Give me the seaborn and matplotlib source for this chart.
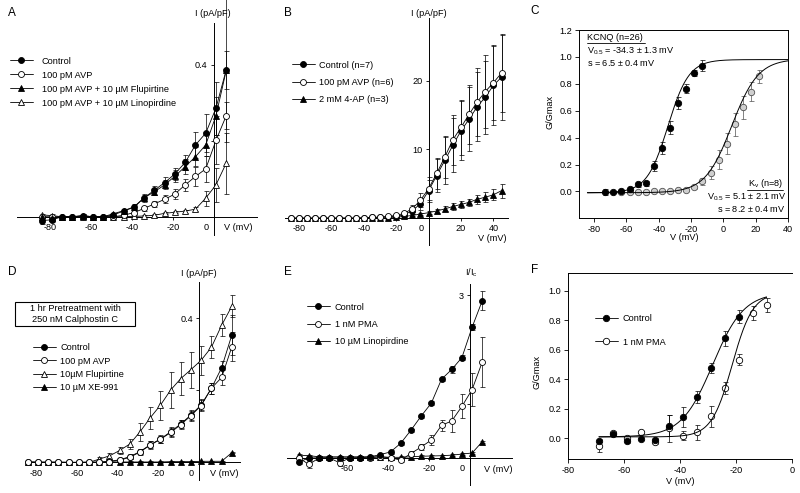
import numpy as np
import pandas as pd
import matplotlib
matplotlib.use("Agg")
import matplotlib.pyplot as plt
from matplotlib.lines import Line2D
from matplotlib.patches import Rectangle
import seaborn as sns

# ---------------- data ----------------
# Panel A  (I, pA/pF)
a_v = [-84, -79, -74, -69, -64, -59, -54, -49, -44, -39, -34, -29, -24, -19, -14, -9, -4, 1, 6]
a_ctl = [-0.01, -0.008, 0.0, 0.0, 0.003, 0.0, 0.0, 0.005, 0.015, 0.025, 0.05, 0.07, 0.09, 0.113, 0.143, 0.189, 0.22, 0.286, 0.387]
a_ctl_e = [0.008, 0.006, 0.003, 0.003, 0.004, 0.003, 0.003, 0.004, 0.006, 0.008, 0.01, 0.012, 0.015, 0.015, 0.02, 0.035, 0.05, 0.07, 0.19]
a_avp = [0.0, 0.0, 0.0, 0.0, 0.0, 0.0, 0.0, 0.0, 0.004, 0.011, 0.022, 0.034, 0.046, 0.06, 0.084, 0.106, 0.126, 0.201, 0.266]
a_avp_e = [0.003, 0.003, 0.003, 0.003, 0.003, 0.003, 0.003, 0.003, 0.004, 0.005, 0.006, 0.008, 0.01, 0.012, 0.015, 0.025, 0.035, 0.063, 0.035]
a_flu = [0.0, -0.003, 0.0, 0.0, 0.003, 0.0, 0.0, 0.008, 0.016, 0.026, 0.05, 0.066, 0.084, 0.107, 0.132, 0.158, 0.189, 0.266, 0.385]
a_flu_e = [0.003, 0.003, 0.003, 0.003, 0.003, 0.003, 0.003, 0.003, 0.005, 0.006, 0.008, 0.01, 0.012, 0.015, 0.02, 0.025, 0.03, 0.05, 0.05]
a_lin = [0.005, 0.003, 0.0, 0.0, 0.0, 0.0, 0.0, 0.0, 0.0, 0.001, 0.002, 0.004, 0.009, 0.012, 0.015, 0.02, 0.049, 0.084, 0.141]
a_lin_e = [0.003, 0.003, 0.003, 0.003, 0.003, 0.003, 0.003, 0.003, 0.003, 0.003, 0.003, 0.003, 0.003, 0.003, 0.004, 0.006, 0.02, 0.044, 0.08]
a_labels = ["Control", "100 pM AVP", "100 pM AVP + 10 \u00b5M Flupirtine", "100 pM AVP + 10 \u00b5M Linopirdine"]

# Panel B  (I, pA/pF)
b_v = [-85, -80, -75, -70, -65, -60, -55, -50, -45, -40, -35, -30, -25, -20, -15, -10, -5, 0, 5, 10, 15, 20, 25, 30, 35, 40, 45]
b_ctl = [0.0, 0.0, 0.0, 0.0, 0.0, 0.0, 0.0, 0.0, 0.0, 0.05, 0.1, 0.15, 0.2, 0.3, 0.5, 1.1, 2.1, 4.0, 6.2, 8.4, 10.6, 12.7, 14.4, 16.2, 17.6, 19.3, 20.5]
b_ctl_e = [0.1, 0.1, 0.1, 0.1, 0.1, 0.1, 0.1, 0.1, 0.1, 0.1, 0.1, 0.1, 0.15, 0.2, 0.3, 0.5, 0.9, 1.6, 2.4, 3.4, 3.9, 4.3, 4.6, 5.0, 5.3, 5.7, 6.3]
b_avp = [0.0, 0.0, 0.0, 0.0, 0.0, 0.0, 0.0, 0.0, 0.0, 0.05, 0.1, 0.15, 0.25, 0.4, 0.7, 1.4, 2.6, 4.3, 6.5, 8.9, 11.4, 13.2, 15.1, 16.9, 18.4, 19.7, 21.1]
b_avp_e = [0.1, 0.1, 0.1, 0.1, 0.1, 0.1, 0.1, 0.1, 0.1, 0.1, 0.1, 0.1, 0.15, 0.2, 0.3, 0.5, 1.0, 1.7, 2.2, 3.0, 3.6, 4.0, 4.3, 4.9, 5.3, 5.5, 5.6]
b_4ap = [0.0, 0.0, 0.0, 0.0, 0.0, 0.0, 0.0, 0.0, 0.0, 0.0, 0.02, 0.04, 0.08, 0.15, 0.25, 0.4, 0.6, 0.8, 1.05, 1.35, 1.7, 2.0, 2.3, 2.75, 3.05, 3.4, 4.0]
b_4ap_e = [0.05, 0.05, 0.05, 0.05, 0.05, 0.05, 0.05, 0.05, 0.05, 0.05, 0.05, 0.05, 0.05, 0.1, 0.1, 0.15, 0.2, 0.25, 0.3, 0.35, 0.45, 0.5, 0.55, 0.65, 0.7, 0.8, 1.0]
b_labels = ["Control (n=7)", "100 pM AVP (n=6)", "2 mM 4-AP (n=3)"]

# Panel C  (G/Gmax)
c_kcnq_v = [-73, -68, -63, -58, -53, -48, -43, -38, -33, -28, -23, -18, -13]
c_kcnq_g = [-0.005, -0.005, 0.0, 0.02, 0.052, 0.06, 0.19, 0.32, 0.475, 0.66, 0.765, 0.88, 0.935]
c_kcnq_e = [0.025, 0.01, 0.01, 0.012, 0.02, 0.02, 0.035, 0.045, 0.045, 0.045, 0.03, 0.02, 0.04]
c_kv_v = [-63, -58, -53, -48, -43, -38, -33, -28, -23, -18, -13, -8, -3, 2, 7, 12, 17, 22]
c_kv_g = [-0.005, -0.005, -0.005, -0.003, 0.0, 0.0, 0.003, 0.008, 0.012, 0.03, 0.075, 0.14, 0.235, 0.355, 0.5, 0.625, 0.74, 0.855]
c_kv_e = [0.005, 0.005, 0.005, 0.005, 0.005, 0.005, 0.005, 0.005, 0.005, 0.01, 0.025, 0.05, 0.07, 0.08, 0.085, 0.085, 0.07, 0.05]
# Boltzmann fit parameters [bottom, top, V0.5, s]
c_kcnq_fit = [-0.01, 0.98, -34.3, 6.5]
c_kv_fit = [-0.01, 0.985, 5.1, 8.2]

# Panel D  (I, pA/pF)
d_v = [-84, -79, -74, -69, -64, -59, -54, -49, -44, -39, -34, -29, -24, -19, -14, -9, -4, 1, 6, 11, 16]
d_ctl = [0.0, 0.0, 0.0, 0.0, 0.0, 0.0, 0.0, 0.0, 0.003, 0.007, 0.016, 0.030, 0.049, 0.065, 0.085, 0.107, 0.132, 0.160, 0.206, 0.263, 0.354]
d_ctl_e = [0.003, 0.003, 0.003, 0.003, 0.003, 0.003, 0.003, 0.003, 0.004, 0.005, 0.006, 0.008, 0.01, 0.01, 0.012, 0.012, 0.014, 0.015, 0.015, 0.02, 0.055]
d_avp = [0.0, 0.0, 0.0, 0.0, 0.0, 0.0, 0.0, 0.0, 0.002, 0.006, 0.014, 0.029, 0.048, 0.064, 0.083, 0.105, 0.130, 0.158, 0.206, 0.236, 0.321]
d_avp_e = [0.003, 0.003, 0.003, 0.003, 0.003, 0.003, 0.003, 0.003, 0.004, 0.005, 0.006, 0.008, 0.01, 0.01, 0.012, 0.012, 0.014, 0.015, 0.015, 0.02, 0.04]
d_flu = [0.0, 0.0, 0.0, 0.0, 0.0, 0.0, 0.0, 0.009, 0.018, 0.033, 0.051, 0.085, 0.124, 0.159, 0.201, 0.233, 0.258, 0.284, 0.320, 0.381, 0.434]
d_flu_e = [0.003, 0.003, 0.003, 0.003, 0.003, 0.003, 0.003, 0.005, 0.008, 0.01, 0.015, 0.025, 0.03, 0.04, 0.05, 0.045, 0.05, 0.04, 0.03, 0.03, 0.03]
d_xe = [0.002, 0.001, 0.001, 0.001, 0.0, 0.0, 0.001, 0.001, 0.001, 0.001, 0.001, 0.001, 0.001, 0.001, 0.002, 0.002, 0.002, 0.003, 0.003, 0.003, 0.027]
d_xe_e = [0.002] * 21
d_labels = ["Control", "100 pM AVP", "10\u00b5M Flupirtine", "10 \u00b5M XE-991"]

# Panel E  (I/Ic)
e_v = [-84, -79, -74, -69, -64, -59, -54, -49, -44, -39, -34, -29, -24, -19, -14, -9, -4, 1, 6]
e_ctl = [-0.08, 0.0, 0.0, 0.0, 0.0, 0.0, 0.0, 0.02, 0.06, 0.11, 0.27, 0.51, 0.77, 1.01, 1.45, 1.63, 1.85, 2.41, 2.90]
e_ctl_e = [0.03, 0.03, 0.03, 0.03, 0.03, 0.03, 0.03, 0.03, 0.03, 0.03, 0.03, 0.03, 0.03, 0.03, 0.04, 0.06, 0.04, 0.05, 0.18]
e_pma = [0.0, -0.12, 0.0, 0.0, -0.09, 0.0, 0.0, 0.0, 0.02, 0.0, -0.04, 0.08, 0.20, 0.33, 0.60, 0.68, 0.95, 1.26, 1.77]
e_pma_e = [0.03, 0.07, 0.03, 0.03, 0.06, 0.03, 0.03, 0.03, 0.03, 0.03, 0.03, 0.04, 0.06, 0.09, 0.1, 0.2, 0.22, 0.31, 0.46]
e_lin = [0.05, 0.04, 0.02, 0.02, 0.02, 0.02, 0.02, 0.02, 0.02, 0.01, 0.01, 0.02, 0.03, 0.035, 0.04, 0.05, 0.07, 0.09, 0.30]
e_lin_e = [0.02] * 19
e_labels = ["Control", "1 nM PMA", "10 \u00b5M Linopirdine"]

# Panel F  (G/Gmax)
f_ctl_v = [-69, -64, -59, -54, -49, -44, -39, -34, -29, -24, -19]
f_ctl_g = [-0.016, 0.03, -0.018, -0.002, -0.012, 0.087, 0.145, 0.28, 0.478, 0.678, 0.826]
f_ctl_e = [0.012, 0.012, 0.015, 0.01, 0.012, 0.07, 0.065, 0.04, 0.035, 0.05, 0.045]
f_pma_v = [-69, -64, -59, -54, -49, -44, -39, -34, -29, -24, -19, -14, -9]
f_pma_g = [-0.05, 0.035, 0.0, 0.04, -0.022, 0.068, 0.018, 0.042, 0.15, 0.34, 0.535, 0.85, 0.905]
f_pma_e = [0.04, 0.015, 0.015, 0.01, 0.015, 0.09, 0.03, 0.05, 0.07, 0.04, 0.04, 0.05, 0.05]
f_ctl_fit = [0.01, 0.99, -28.3, 5.6]
f_pma_fit = [0.01, 0.99, -21.3, 3.7]
f_labels = ["Control", "1 nM PMA"]

# ---------------- style ----------------
sns.set_theme(style="ticks")
plt.rcParams['font.family'] = ['Liberation Sans', 'DejaVu Sans']
plt.rcParams['mathtext.fontset'] = 'custom'
plt.rcParams['mathtext.rm'] = 'Liberation Sans'
plt.rcParams['mathtext.it'] = 'Liberation Sans:italic'
plt.rcParams['axes.unicode_minus'] = False
for k in ['text.color', 'axes.edgecolor', 'xtick.color', 'ytick.color', 'axes.labelcolor']:
    plt.rcParams[k] = 'black'

W, H = 800, 493
FS = 6.6
LFS = 8.5
fig = plt.figure(figsize=(8, 4.93), dpi=100)
fig.patch.set_facecolor('white')


def px_axes(l, t, r, b):
    return fig.add_axes([l / W, 1 - b / H, (r - l) / W, (b - t) / H])


def ftxt(x, y, s, **kw):
    kw.setdefault('fontsize', FS)
    kw.setdefault('ha', 'center')
    kw.setdefault('va', 'center')
    fig.text(x / W, 1 - y / H, s, **kw)


def cross_axes(box, xlim, ylim, xticks, yticks, ylabels):
    ax = px_axes(*box)
    ax.set_xlim(xlim)
    ax.set_ylim(ylim)
    for s in ['top', 'right']:
        ax.spines[s].set_visible(False)
    ax.spines['left'].set_position(('data', 0))
    ax.spines['bottom'].set_position(('data', 0))
    for s in ['left', 'bottom']:
        ax.spines[s].set_linewidth(0.7)
        ax.spines[s].set_color('black')
    ax.set_xticks(xticks)
    ax.set_xticklabels(['' if t == 0 else f'{t:g}' for t in xticks])
    ax.set_yticks(yticks)
    ax.set_yticklabels(ylabels)
    ax.tick_params(direction='out', length=2.5, width=0.6, labelsize=FS, pad=2)
    ax.patch.set_visible(False)
    if 0 in xticks:
        ax.annotate('0', xy=(0, 0), xycoords='data', xytext=(-5.5, -4.5),
                    textcoords='offset points', ha='center', va='top', fontsize=FS)
    ax.grid(False)
    return ax


def box_axes(box, xlim, ylim, xticks, yticks, right=True):
    ax = px_axes(*box)
    ax.set_xlim(xlim)
    ax.set_ylim(ylim)
    for s in ax.spines:
        ax.spines[s].set_linewidth(0.7)
        ax.spines[s].set_color('black')
    ax.spines['right'].set_visible(right)
    ax.set_xticks(xticks)
    ax.set_xticklabels([f'{t:g}' for t in xticks])
    ax.set_yticks(yticks)
    ax.set_yticklabels([f'{t:.1f}' for t in yticks])
    ax.tick_params(direction='out', length=3, width=0.6, labelsize=FS, pad=2)
    ax.grid(False)
    return ax


def series(ax, x, y, e, marker, fill, ms=4.3, color='black', ecolor='black', line=True):
    ax.errorbar(x, y, yerr=e, fmt='none', ecolor=ecolor, elinewidth=0.5,
                capsize=1.8, capthick=0.5, zorder=2, clip_on=False)
    sns.lineplot(x=x, y=y, ax=ax, color=color, lw=0.6 if line else 0, marker=marker, markersize=ms,
                 markerfacecolor=fill, markeredgecolor=color, markeredgewidth=0.6,
                 zorder=3, clip_on=False, estimator=None, sort=False)


def handle(marker, fill, ms=4.3, color='black', ecolor='black'):
    return Line2D([0], [0], color=ecolor, lw=0.6, marker=marker, markersize=ms,
                  markerfacecolor=fill, markeredgecolor=color, markeredgewidth=0.6)


def legend(handles, labels, x, y, spacing, textpad):
    fig.legend(handles, labels, loc='upper left', bbox_to_anchor=(x / W, 1 - y / H),
               bbox_transform=fig.transFigure, frameon=False, fontsize=FS,
               handlelength=2.5, handletextpad=textpad, labelspacing=spacing,
               borderpad=0, borderaxespad=0, numpoints=1)


def boltz(v, p):
    v = np.asarray(v, dtype=float)
    return p[0] + (p[1] - p[0]) / (1 + np.exp((p[2] - v) / p[3]))


TRI = 4.8

# ---------------- Panel A ----------------
axA = cross_axes((17, 23, 257, 235), (-96, 21), (-0.048, 0.51),
                 [-80, -60, -40, -20, 0], [0.2, 0.4], ['', '0.4'])
series(axA, a_v, a_lin, a_lin_e, '^', 'white', TRI)
series(axA, a_v, a_avp, a_avp_e, 'o', 'white')
series(axA, a_v, a_flu, a_flu_e, '^', 'black', TRI)
series(axA, a_v, a_ctl, a_ctl_e, 'o', 'black')
legend([handle('o', 'black'), handle('o', 'white'), handle('^', 'black', TRI), handle('^', 'white', TRI)],
       a_labels, 10, 56.5, 0.55, 0.95)
ftxt(213, 14, 'I (pA/pF)')
ftxt(253, 227.5, 'V (mV)', ha='right')
ftxt(12, 13, 'A', fontsize=LFS)

# ---------------- Panel B ----------------
axB = cross_axes((285, 18, 508, 245), (-88.6, 49), (-3.9, 29.1),
                 [-80, -60, -40, -20, 0, 20, 40], [10, 20], ['10', '20'])
series(axB, b_v, b_4ap, b_4ap_e, '^', 'black', TRI)
series(axB, b_v, b_ctl, b_ctl_e, 'o', 'black')
series(axB, b_v, b_avp, b_avp_e, 'o', 'white')
legend([handle('o', 'black'), handle('o', 'white'), handle('^', 'black', TRI)],
       b_labels, 292, 60.5, 0.9, 0.4)
ftxt(428.5, 13, 'I (pA/pF)')
ftxt(507, 238, 'V (mV)', ha='right')
ftxt(288, 13, 'B', fontsize=LFS)

# ---------------- Panel C ----------------
axC = box_axes((579.3, 30, 788.3, 218.3), (-89, 40), (-0.2, 1.2),
               [-80, -60, -40, -20, 0, 20, 40], [0.0, 0.2, 0.4, 0.6, 0.8, 1.0, 1.2])
vfit = np.linspace(-84, 40, 300)
sns.lineplot(x=vfit, y=boltz(vfit, c_kcnq_fit), ax=axC, color='black', lw=0.7, zorder=4)
sns.lineplot(x=vfit, y=boltz(vfit, c_kv_fit), ax=axC, color='black', lw=0.7, zorder=4)
series(axC, c_kv_v, c_kv_g, c_kv_e, 'o', '#cfcfcf', 4.6, color='#505050', ecolor='#505050', line=False)
series(axC, c_kcnq_v, c_kcnq_g, c_kcnq_e, 'o', 'black', 4.6, line=False)
ftxt(587, 38, 'KCNQ (n=26)', ha='left')
fig.add_artist(Line2D([587 / W, 645 / W], [1 - 42.5 / H, 1 - 42.5 / H], color='black', lw=0.6))
ftxt(587, 51, r'V$_{\mathregular{0.5}}$ = -34.3 $\pm$ 1.3 mV', ha='left')
ftxt(587, 63.5, r's = 6.5 $\pm$ 0.4 mV', ha='left')
ftxt(783, 184, r'K$_{\mathregular{v}}$ (n=8)', ha='right')
fig.add_artist(Line2D([747 / W, 783 / W], [1 - 189.5 / H, 1 - 189.5 / H], color='black', lw=0.6))
ftxt(786, 197.5, r'V$_{\mathregular{0.5}}$ = 5.1 $\pm$ 2.1 mV', ha='right')
ftxt(786, 209.5, r's = 8.2 $\pm$ 0.4 mV', ha='right')
ftxt(550, 112, 'G/Gmax', rotation=90)
ftxt(683.8, 237.5, 'V (mV)')
ftxt(535, 11, 'C', fontsize=LFS)

# ---------------- Panel D ----------------
axD = cross_axes((25, 281.7, 240, 480), (-85.4, 20), (-0.049, 0.502),
                 [-80, -60, -40, -20, 0], [0.2, 0.4], ['', '0.4'])
series(axD, d_v, d_xe, d_xe_e, '^', 'black', TRI)
series(axD, d_v, d_flu, d_flu_e, '^', 'white', TRI)
series(axD, d_v, d_ctl, d_ctl_e, 'o', 'black')
series(axD, d_v, d_avp, d_avp_e, 'o', 'white')
legend([handle('o', 'black'), handle('o', 'white'), handle('^', 'white', TRI), handle('^', 'black', TRI)],
       d_labels, 33, 343.5, 0.45, 0.45)
fig.add_artist(Rectangle((15 / W, 1 - 326 / H), 120 / W, 23.7 / H, transform=fig.transFigure,
                         fill=False, lw=0.8, ec='black'))
ftxt(75, 308.5, '1 hr Pretreatment with')
ftxt(75, 320, '250 nM Calphostin C')
ftxt(199, 273.3, 'I (pA/pF)')
ftxt(238, 473, 'V (mV)', ha='right')
ftxt(12, 272, 'D', fontsize=LFS)

# ---------------- Panel E ----------------
axE = cross_axes((286.7, 284.3, 511.7, 485), (-89.9, 20.4), (-0.5, 3.2),
                 [-60, -40, -20, 0], [1, 2, 3], ['', '', '3'])
series(axE, e_v, e_lin, e_lin_e, '^', 'black', TRI)
series(axE, e_v, e_pma, e_pma_e, 'o', 'white')
series(axE, e_v, e_ctl, e_ctl_e, 'o', 'black')
legend([handle('o', 'black'), handle('o', 'white'), handle('^', 'black', TRI)],
       e_labels, 306.7, 302.5, 0.9, 0.55)
ftxt(471, 273, r'I/I$_{\mathregular{c}}$')
ftxt(512, 469.3, 'V (mV)', ha='right')
ftxt(288, 272, 'E', fontsize=LFS)

# ---------------- Panel F ----------------
axF = box_axes((568.3, 273.3, 791.7, 459), (-80, 0), (-0.14, 1.12),
               [-80, -60, -40, -20, 0], [0.0, 0.2, 0.4, 0.6, 0.8, 1.0], right=False)
vf = np.linspace(-69, -9, 200)
sns.lineplot(x=vf, y=boltz(vf, f_ctl_fit), ax=axF, color='black', lw=0.7, zorder=4)
sns.lineplot(x=vf, y=boltz(vf, f_pma_fit), ax=axF, color='black', lw=0.7, zorder=4)
series(axF, f_pma_v, f_pma_g, f_pma_e, 'o', 'white', 4.6, line=False)
series(axF, f_ctl_v, f_ctl_g, f_ctl_e, 'o', 'black', 4.6, line=False)
legend([handle('o', 'black', 4.6), handle('o', 'white', 4.6)], f_labels, 595, 314, 1.6, 0.55)
ftxt(537, 372, 'G/Gmax', rotation=90)
ftxt(680, 482, 'V (mV)')
ftxt(535, 270, 'F', fontsize=LFS)

fig.savefig('out.png', dpi=100, facecolor='white')
